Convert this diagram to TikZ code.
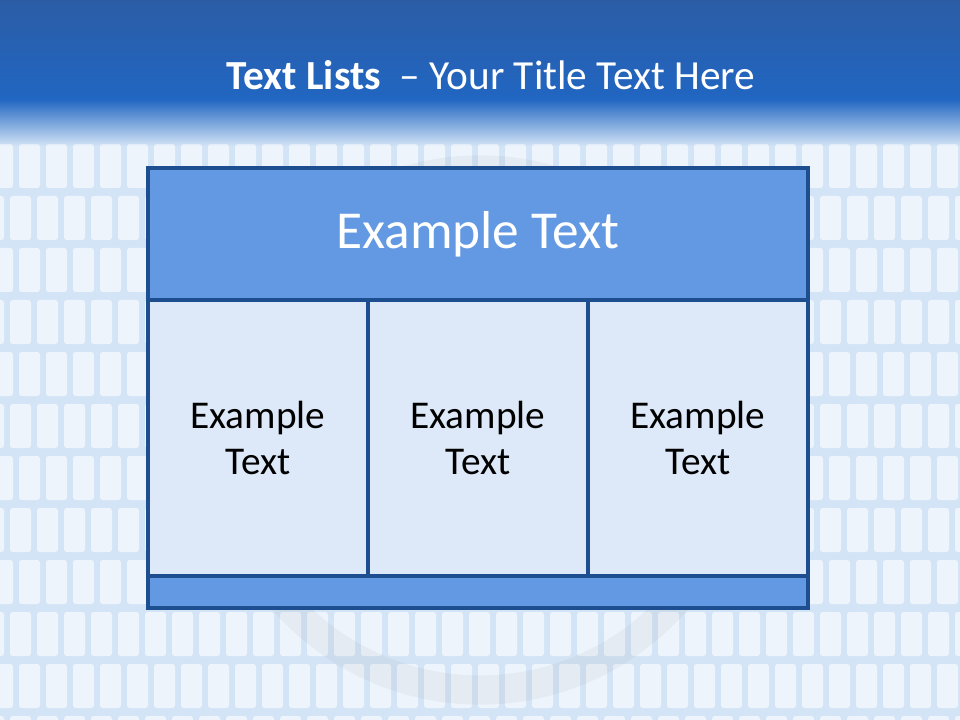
\documentclass[tikz,border=0pt]{standalone}
\usepackage{fontspec}
\setmainfont{Carlito}
\usetikzlibrary{fadings}
\definecolor{bgbase}{HTML}{D3E4F6}
\definecolor{topA}{HTML}{2B5DA6}
\definecolor{topB}{HTML}{2166C2}
\definecolor{edge}{HTML}{1D4E8F}
\definecolor{hdrfill}{HTML}{6399E2}
\definecolor{cellfill}{HTML}{DDE9F8}
\tikzset{
  px/.style={x=0.75pt,y=-0.75pt},
  boxpart/.style={draw=edge, line width=2.5pt, rectangle, inner sep=0pt},
  celltext/.style={text=black, align=center, font=\fontsize{29.5}{34}\selectfont},
}
\begin{document}
\begin{tikzpicture}[px]
\useasboundingbox (0,0) rectangle (960,720);
% background
\fill[bgbase] (0,0) rectangle (960,720);
\foreach \j [count=\r] in {140,192,244,296,348,400,452,504,556,608,660,712} {
  \foreach \i in {-20,7,...,960} {
    \fill[white, opacity=0.6, rounded corners=2pt]
      ({\i+3+mod(\r,2)*9},\j+4) rectangle ({\i+24+mod(\r,2)*9},\j+48);
  }
}
\draw[gray, opacity=0.07, line width=22pt] (480,430) circle [radius=260];
% top band
\shade[top color=topA, bottom color=topB] (0,0) rectangle (960,100);
\fill[topB, path fading=south] (0,99) rectangle (960,146);
% title
\node[text=white, font=\fontsize{31}{37}\selectfont] (title) at (491,75)
  {\textbf{Text Lists}\ \ – Your Title Text Here};
% table
\node[boxpart, fill=hdrfill, minimum width=660*0.75pt, minimum height=132*0.75pt] (hdr) at (478,234) {};
\node[boxpart, fill=cellfill, minimum width=220*0.75pt, minimum height=276*0.75pt] (c1) at (258,438) {};
\node[boxpart, fill=cellfill, minimum width=220*0.75pt, minimum height=276*0.75pt] (c2) at (478,438) {};
\node[boxpart, fill=cellfill, minimum width=220*0.75pt, minimum height=276*0.75pt] (c3) at (698,438) {};
\node[boxpart, fill=hdrfill, minimum width=660*0.75pt, minimum height=32*0.75pt] (foot) at (478,592) {};
% texts
\node[text=white, font=\fontsize{40}{48}\selectfont] (hdrtext) at (hdr.center) {Example Text};
\node[celltext] (t1) at (c1.center) {Example\\Text};
\node[celltext] (t2) at (c2.center) {Example\\Text};
\node[celltext] (t3) at (c3.center) {Example\\Text};
\end{tikzpicture}
\end{document}
